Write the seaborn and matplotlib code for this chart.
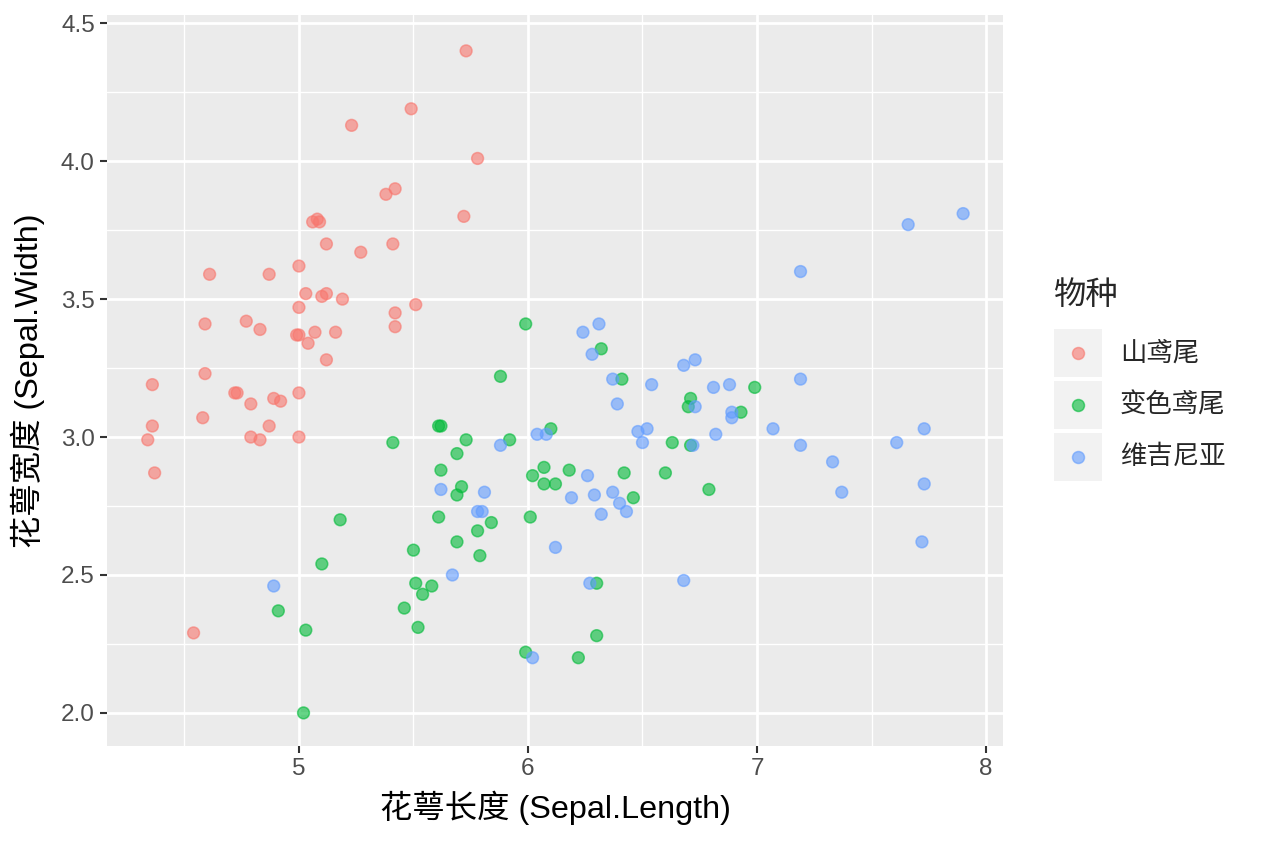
import matplotlib
matplotlib.use("Agg")
import matplotlib.pyplot as plt
from matplotlib.patches import Rectangle
from matplotlib.ticker import MultipleLocator
import seaborn as sns
import pandas as pd

# 山鸢尾 (setosa) - 抖动后的点
setosa_x = [5.73, 5.49, 5.23, 5.78, 5.42, 5.38, 5.72, 5.08, 5.09, 5.06,
            5.41, 5.12, 5.27, 5.00, 4.61, 4.87, 5.03, 5.10, 5.12, 5.19,
            5.51, 5.00, 5.42, 5.42, 4.59, 4.77, 4.83, 4.99, 5.00, 5.07,
            5.16, 5.04, 5.12, 4.36, 4.59, 4.72, 4.73, 4.79, 4.89, 4.92,
            5.00, 4.58, 4.36, 4.34, 4.79, 4.83, 4.87, 5.00, 4.37, 4.54]
setosa_y = [4.40, 4.19, 4.13, 4.01, 3.90, 3.88, 3.80, 3.79, 3.78, 3.78,
            3.70, 3.70, 3.67, 3.62, 3.59, 3.59, 3.52, 3.51, 3.52, 3.50,
            3.48, 3.47, 3.45, 3.40, 3.41, 3.42, 3.39, 3.37, 3.37, 3.38,
            3.38, 3.34, 3.28, 3.19, 3.23, 3.16, 3.16, 3.12, 3.14, 3.13,
            3.16, 3.07, 3.04, 2.99, 3.00, 2.99, 3.04, 3.00, 2.87, 2.29]

# 变色鸢尾 (versicolor)
versicolor_x = [5.99, 6.32, 5.88, 6.41, 6.99, 6.71, 6.70, 6.93, 5.61, 5.62,
                6.10, 5.73, 5.92, 6.63, 6.71, 5.41, 5.69, 5.62, 6.02, 6.07,
                6.18, 6.12, 6.07, 6.42, 6.60, 6.79, 6.46, 5.71, 5.69, 5.61,
                6.01, 5.84, 5.78, 5.69, 5.79, 5.50, 5.51, 5.58, 5.54, 5.46,
                5.52, 6.30, 6.30, 5.99, 6.22, 5.18, 5.10, 4.91, 5.03, 5.02]
versicolor_y = [3.41, 3.32, 3.22, 3.21, 3.18, 3.14, 3.11, 3.09, 3.04, 3.04,
                3.03, 2.99, 2.99, 2.98, 2.97, 2.98, 2.94, 2.88, 2.86, 2.89,
                2.88, 2.83, 2.83, 2.87, 2.87, 2.81, 2.78, 2.82, 2.79, 2.71,
                2.71, 2.69, 2.66, 2.62, 2.57, 2.59, 2.47, 2.46, 2.43, 2.38,
                2.31, 2.47, 2.28, 2.22, 2.20, 2.70, 2.54, 2.37, 2.30, 2.00]

# 维吉尼亚 (virginica)
virginica_x = [6.24, 6.31, 6.28, 6.37, 6.54, 6.68, 6.73, 6.81, 6.39, 6.73,
               6.48, 6.52, 6.50, 6.82, 6.72, 6.04, 6.08, 5.88, 6.26, 5.62,
               5.81, 6.19, 6.29, 6.37, 6.40, 6.43, 6.32, 5.78, 5.80, 6.12,
               5.67, 6.68, 6.27, 6.02, 4.89, 7.90, 7.66, 7.19, 7.19, 6.88,
               6.89, 6.89, 7.07, 7.19, 7.33, 7.37, 7.61, 7.73, 7.73, 7.72]
virginica_y = [3.38, 3.41, 3.30, 3.21, 3.19, 3.26, 3.28, 3.18, 3.12, 3.11,
               3.02, 3.03, 2.98, 3.01, 2.97, 3.01, 3.01, 2.97, 2.86, 2.81,
               2.80, 2.78, 2.79, 2.80, 2.76, 2.73, 2.72, 2.73, 2.73, 2.60,
               2.50, 2.48, 2.47, 2.20, 2.46, 3.81, 3.77, 3.60, 3.21, 3.19,
               3.09, 3.07, 3.03, 2.97, 2.91, 2.80, 2.98, 3.03, 2.83, 2.62]

species = ["山鸢尾", "变色鸢尾", "维吉尼亚"]
colors = ["#F8766D", "#00BA38", "#619CFF"]

x_ticks = [5, 6, 7, 8]
y_ticks = [2.0, 2.5, 3.0, 3.5, 4.0, 4.5]

df = pd.DataFrame({
    "Sepal.Length": setosa_x + versicolor_x + virginica_x,
    "Sepal.Width": setosa_y + versicolor_y + virginica_y,
    "Species": [species[0]] * len(setosa_x) + [species[1]] * len(versicolor_x)
               + [species[2]] * len(virginica_x),
})

sns.set_style("darkgrid", {"axes.facecolor": "#EBEBEB", "grid.color": "white"})
plt.rcParams["font.family"] = ["Liberation Sans", "Noto Sans CJK SC", "DejaVu Sans"]

W, H = 1264, 843
fig = plt.figure(figsize=(W / 100, H / 100), dpi=100)
ax = fig.add_axes([107 / W, 1 - 746 / H, 896 / W, 731 / H])

sns.scatterplot(data=df, x="Sepal.Length", y="Sepal.Width", hue="Species",
                hue_order=species, palette=colors, alpha=0.6, s=72,
                linewidth=1.1, legend=False, ax=ax, zorder=3)
# 点的描边与填充同色
for coll in ax.collections:
    coll.set_edgecolor(coll.get_facecolor())

ax.set_xlim(4.162, 8.074)
ax.set_ylim(1.88, 4.53)
ax.set_xticks(x_ticks)
ax.set_xticklabels([str(v) for v in x_ticks])
ax.set_yticks(y_ticks)
ax.set_yticklabels([f"{v:.1f}" for v in y_ticks])
ax.xaxis.set_minor_locator(MultipleLocator(0.5))
ax.yaxis.set_minor_locator(MultipleLocator(0.25))
ax.grid(which="major", color="white", linewidth=2.0)
ax.grid(which="minor", color="white", linewidth=1.0)
ax.set_axisbelow(True)
for sp in ax.spines.values():
    sp.set_visible(False)
ax.tick_params(which="major", length=4.8, width=1.5, color="#333333",
               labelsize=17.5, labelcolor="#4D4D4D", pad=4, bottom=True, left=True)
ax.tick_params(which="minor", length=0)

ax.set_xlabel("花萼长度 (Sepal.Length)", fontsize=23.3, color="black")
ax.set_ylabel("花萼宽度 (Sepal.Width)", fontsize=23.3, color="black")
ax.xaxis.label.set_va("center")
ax.yaxis.label.set_va("center")
ax.xaxis.set_label_coords(0.5, (746 - 808) / 731)
ax.yaxis.set_label_coords((28 - 107) / 896, 0.5)

# 图例
def fx(px):
    return px / W

def fy(py):
    return 1 - py / H

fig.text(fx(1053), fy(296), "物种", fontsize=23.3, va="center", ha="left")
key_tops = [329, 381, 433]
for top, name, col in zip(key_tops, species, colors):
    fig.add_artist(Rectangle((fx(1054), fy(top + 48)), 48 / W, 48 / H,
                             transform=fig.transFigure, facecolor="#F2F2F2",
                             edgecolor="none"))
    fig.add_artist(plt.Line2D([fx(1078)], [fy(top + 24)], marker="o",
                              markersize=8.6, color=col, alpha=0.6,
                              markeredgewidth=1.1, transform=fig.transFigure))
    fig.text(fx(1120), fy(top + 24), name, fontsize=19, va="center", ha="left")

fig.savefig("out.png", dpi=100)
